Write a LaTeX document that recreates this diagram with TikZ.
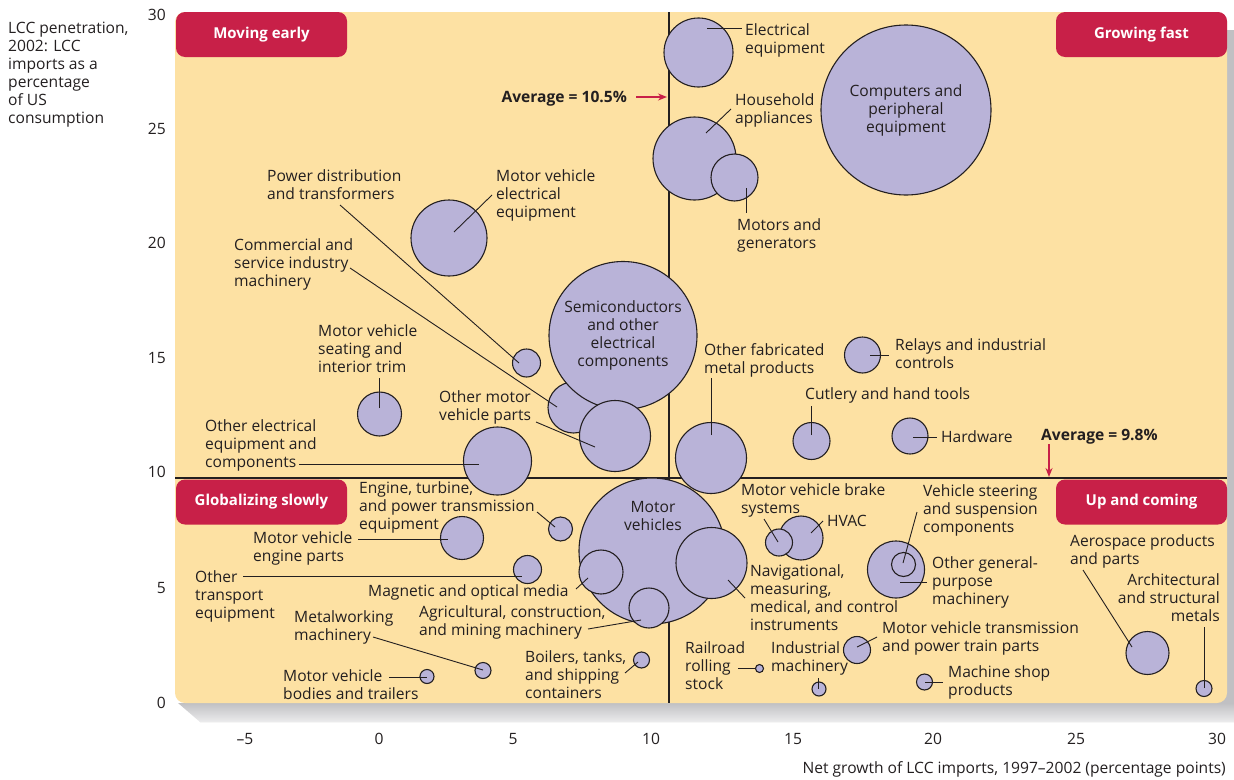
\documentclass[tikz,border=0pt]{standalone}
\usepackage{fontspec}
\setmainfont{Open Sans}
\usetikzlibrary{arrows.meta}

\definecolor{ink}{RGB}{35,31,32}
\definecolor{panel}{RGB}{253,225,163}
\definecolor{bubblefill}{RGB}{185,179,216}
\definecolor{tagred}{RGB}{200,32,72}
\definecolor{shadowtop}{RGB}{192,192,195}
\definecolor{shadowbot}{RGB}{236,236,237}

\newcommand\lblfont{\fontsize{15.6}{18}\selectfont}
\newcommand\tagfont{\fontsize{15}{18}\selectfont\bfseries}
% multi-line text whose baseline is the first line
\newcommand\ml[1]{\begin{tabular}[t]{@{}l@{}}#1\end{tabular}}
\newcommand\mr[1]{\begin{tabular}[t]{@{}r@{}}#1\end{tabular}}

% bubble: name, centre x, centre y, radius (px)
\newcommand\bub[4]{\node[bubble,minimum size={2*#4 pt}] (#1) at (#2,#3) {};}
% leader line between two named coordinates
\newcommand\lead[3]{\coordinate (#1-a) at (#2); \coordinate (#1-b) at (#3); \draw[leader] (#1-a) -- (#1-b);}

\begin{document}
\begin{tikzpicture}[x=1pt,y=-1pt,
  bubble/.style={circle,draw=ink,line width=1.1pt,fill=bubblefill,inner sep=0pt},
  leader/.style={draw=ink,line width=0.9pt},
  lbl/.style={inner sep=0pt,anchor=base west,font=\lblfont,text=ink},
  tag/.style={fill=tagred,rounded corners=9pt,text=white,font=\tagfont,
              minimum width=171pt,minimum height=45pt,inner sep=0pt},
  avgarrow/.style={draw=tagred,line width=1.6pt,-{Stealth[length=9pt,width=7pt]}},
  tick/.style={inner sep=0pt,font=\lblfont,text=ink},
  quadline/.style={draw=ink,line width=2.6pt}]

\useasboundingbox (0,0) rectangle (1234,779);

% drop shadow of the plotting panel
\fill[shadowtop] (185,30) -- (1234,30) -- (1234,722) -- (200,722) -- cycle;
\shade[top color=shadowtop,bottom color=shadowbot] (178,703) -- (1234,703) -- (1234,722) -- (200,722) -- cycle;

% plotting panel
\fill[panel,rounded corners=10pt] (175,12) rectangle (1227,703);

% quadrant dividers
\coordinate (vtop) at (669,12);
\coordinate (vbot) at (669,703);
\coordinate (hleft) at (175,478);
\coordinate (hright) at (1227,478);
\draw[quadline] (vtop) -- (vbot);
\draw[quadline] (hleft) -- (hright);

% quadrant tags
\node[tag] (tagME) at (261.5,34.5) {Moving early};
\node[tag] (tagGF) at (1141.5,34.5) {Growing fast};
\node[tag] (tagGS) at (261.5,502) {Globalizing slowly};
\node[tag] (tagUC) at (1141.5,502) {Up and coming};

% bubbles
\bub{ee}{698.5}{52.5}{34.5}
\node[bubble,minimum size=170pt,align=center,font=\lblfont,text=ink] (comp) at (906,110)
  {Computers and\\peripheral\\equipment};
\bub{ha}{694.5}{158.5}{41.5}
\bub{mg}{734.5}{177.5}{23.5}
\bub{mve}{449}{238}{38}
\bub{pdt}{526.5}{363}{14}
\bub{csi}{573.5}{407.5}{25.5}
\node[bubble,minimum size=148pt,align=center,font=\lblfont,text=ink] (semi) at (623,335.5)
  {Semiconductors\\and other\\electrical\\components};
\bub{omv}{615}{436}{35.5}
\bub{mvs}{379.5}{414}{22}
\bub{oee}{497.5}{461}{34}
\bub{ofm}{711}{458}{35.5}
\bub{ric}{862.5}{355}{18}
\bub{cht}{811.5}{441}{18.5}
\bub{hw}{910}{436}{18}
\bub{mv}{652}{551}{73}
\node[inner sep=0pt,align=center,font=\lblfont,text=ink] (mvtext) at (653,516) {Motor\\vehicles};
\bub{nav}{711.5}{563}{35.5}
\bub{mom}{601}{572}{22}
\bub{acm}{649}{608}{20}
\bub{etp}{560.5}{529}{12}
\bub{mvep}{462}{538}{21.5}
\bub{ote}{527.5}{569.5}{14}
\bub{mw}{483}{670.5}{8}
\bub{mvb}{427}{676.5}{7}
\bub{btc}{641.5}{660}{8}
\bub{rrs}{759.5}{668.5}{4}
\bub{im}{819}{689}{7}
\bub{hvac}{801}{538}{22}
\bub{mvbs}{779}{542.5}{13.5}
\bub{ogp}{896}{569.5}{28.5}
\bub{vss}{903.5}{564.5}{12}
\bub{mvt}{857}{650}{13.5}
\bub{msp}{924.5}{682}{8}
\bub{asp}{1147.5}{653}{21.5}
\bub{asm}{1204}{688.5}{8}

% leader lines
\lead{Lee}{707,28}{742,28}
\lead{Lha}{706,133}{731,109}
\lead{Lmg}{746,188}{746,213}
\lead{Lmve}{454,232}{492,195}
\lead{Lpdt}{519,363}{340,205}
\lead{Lcsi}{557,407}{350,268}
\lead{Lmvs}{379,408}{379,378}
\lead{Loee}{299,464}{479,464}
\lead{Lomv}{595,447}{536,422}
\lead{Lofm}{711,435}{711,378}
\lead{Lric}{870,355}{889,355}
\lead{Lcht}{811,435}{811,406}
\lead{Lhw}{913,437}{937,437}
\lead{Letp}{555,527}{537,512}
\lead{Lmvep}{358,539}{448,539}
\lead{Lote}{243,576}{522,576}
\lead{Lmom}{588,578}{576,589}
\lead{Lacm}{641,620}{588,629}
\lead{Lmw}{373,637}{483,670}
\lead{Lmvb}{389,677}{427,677}
\lead{Lbtc}{638,662}{625,673}
\lead{Lrrs}{738,668}{756,668}
\lead{Lim}{818,678}{818,689}
\lead{Lnav}{728,580}{745,598}
\lead{Lmvbs}{778,542}{764,519}
\lead{Lhvac}{811,533}{823,521}
\lead{Lvss}{903,563}{917,512}
\lead{Logp}{900,582}{927,582}
\lead{Lmvt}{857,647}{877,637}
\lead{Lmsp}{925,682}{943,682}
\lead{Lasp}{1132,647}{1083,570}
\lead{Lasm}{1204,688}{1204,627}

% bubble captions
\node[lbl] (tee) at (745,35) {\ml{Electrical\\equipment}};
\node[lbl] (tha) at (735,105) {\ml{Household\\appliances}};
\node[lbl] (tmg) at (737,230) {\ml{Motors and\\generators}};
\node[lbl] (tmve) at (496,181) {\ml{Motor vehicle\\electrical\\equipment}};
\node[lbl] (tpdt) at (267,181) {\ml{Power distribution\\and transformers}};
\node[lbl] (tcsi) at (234,250) {\ml{Commercial and\\service industry\\machinery}};
\node[lbl] (tmvs) at (318,336) {\ml{Motor vehicle\\seating and\\interior trim}};
\node[lbl] (toee) at (205,431) {\ml{Other electrical\\equipment and\\components}};
\node[lbl] (tomv) at (439,402) {\ml{Other motor\\vehicle parts}};
\node[lbl] (tofm) at (704,355) {\ml{Other fabricated\\metal products}};
\node[lbl] (tric) at (895,350) {\ml{Relays and industrial\\controls}};
\node[lbl] (tcht) at (805,399) {Cutlery and hand tools};
\node[lbl] (thw) at (941,442) {Hardware};
\node[lbl] (tetp) at (359,493) {\ml{Engine, turbine,\\and power transmission\\equipment}};
\node[lbl] (tmvep) at (253,543) {\ml{Motor vehicle\\engine parts}};
\node[lbl] (tote) at (195,582) {\ml{Other\\transport\\equipment}};
\node[lbl] (tmom) at (368,596) {Magnetic and optical media};
\node[lbl] (tacm) at (419,617) {\ml{Agricultural, construction,\\and mining machinery}};
\node[lbl] (tmw) at (294,622) {\ml{Metalworking\\machinery}};
\node[lbl] (tmvb) at (283,681) {\ml{Motor vehicle\\bodies and trailers}};
\node[lbl] (tbtc) at (525,662) {\ml{Boilers, tanks,\\and shipping\\containers}};
\node[lbl] (trrs) at (685,653) {\ml{Railroad\\rolling\\stock}};
\node[lbl] (tim) at (771,653) {\ml{Industrial\\machinery}};
\node[lbl] (tnav) at (750,576) {\ml{Navigational,\\measuring,\\medical, and control\\instruments}};
\node[lbl] (tmvbs) at (741,495) {\ml{Motor vehicle brake\\systems}};
\node[lbl] (thvac) at (827,526) {HVAC};
\node[lbl] (tvss) at (923,496) {\ml{Vehicle steering\\and suspension\\components}};
\node[lbl] (togp) at (932,568) {\ml{Other general-\\purpose\\machinery}};
\node[lbl] (tmvt) at (882,633) {\ml{Motor vehicle transmission\\and power train parts}};
\node[lbl] (tmsp) at (948,677) {\ml{Machine shop\\products}};
\node[lbl] (tasp) at (1070,546) {\ml{Aerospace products\\and parts}};
\node[lbl,anchor=base east] (tasm) at (1220,585) {\mr{Architectural\\and structural\\metals}};

% averages
\node[lbl,anchor=base east,font=\lblfont\bfseries] (avgx) at (627,102) {Average = 10.5\%};
\coordinate (avgxtip) at (667,97);
\coordinate (avgxtail) at (636,97);
\draw[avgarrow] (avgxtail) -- (avgxtip);
\node[lbl,anchor=base west,font=\lblfont\bfseries] (avgy) at (1041,440) {Average = 9.8\%};
\coordinate (avgytail) at (1049,444);
\coordinate (avgytip) at (1049,477);
\draw[avgarrow] (avgytail) -- (avgytip);

% y axis
\node[lbl] (ytitle) at (8,33) {\ml{LCC penetration,\\2002: LCC\\imports as a\\percentage\\of US\\consumption}};
\foreach \v/\py in {30/15,25/129,20/243,15/358,10/472,5/588,0/703}
  \node[tick,anchor=east] (ty\v) at (166,\py) {\v};

% x axis
\foreach \v/\px [count=\i] in {–5/245,0/379,5/513,10/651,15/793,20/933,25/1076,30/1217}
  \node[tick] (tx\i) at (\px,739) {\v};
\node[lbl,anchor=base east] (xtitle) at (1226,773) {Net growth of LCC imports, 1997–2002 (percentage points)};

\end{tikzpicture}
\end{document}
